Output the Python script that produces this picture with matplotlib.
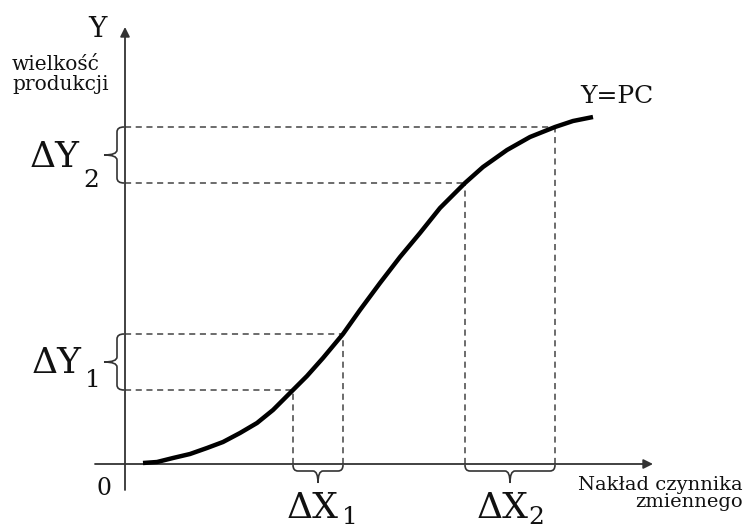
import numpy as np
import matplotlib
matplotlib.use('Agg')
import matplotlib.pyplot as plt
from matplotlib.path import Path
from matplotlib.patches import PathPatch

# production curve Y = PC (origin at the axes' crossing)
curve_x = [18, 32, 48, 65, 82, 98, 115, 132, 148, 168, 182, 198, 218,
           235, 255, 275, 295, 315, 340, 358, 382, 405, 430, 448, 468]
curve_y = [1, 2, 6, 10, 16, 22, 31, 41, 54, 74, 88, 106, 130,
           154, 181, 207, 231, 256, 281, 297, 314, 327, 337, 343, 347]

# the four marked points on the curve
mark_x = [168, 218, 340, 430]
mark_y = [74, 130, 281, 337]

plt.rcParams['font.family'] = 'DejaVu Serif'

fig = plt.figure(figsize=(7.46, 5.32), dpi=100)
ax = fig.add_axes([0, 0, 1, 1])
ax.set_xlim(-125, 621)
ax.set_ylim(-68, 464)
ax.axis('off')

axis_col = '#333333'
dash_col = '#444444'

# axes with arrows
ax.annotate('', xy=(0, 437), xytext=(0, -26),
            arrowprops=dict(arrowstyle='-|>', lw=1.3, color=axis_col,
                            mutation_scale=14, shrinkA=0, shrinkB=0))
ax.annotate('', xy=(528, 0), xytext=(-30, 0),
            arrowprops=dict(arrowstyle='-|>', lw=1.3, color=axis_col,
                            mutation_scale=14, shrinkA=0, shrinkB=0))

# dashed guides
for mx, my in zip(mark_x, mark_y):
    ax.plot([0, mx], [my, my], ls=(0, (4, 3)), lw=1.1, color=dash_col)
    ax.plot([mx, mx], [0, my], ls=(0, (4, 3)), lw=1.1, color=dash_col)

ax.plot(curve_x, curve_y, color='black', lw=3.2, solid_capstyle='butt',
        solid_joinstyle='round', zorder=5)


def brace(a, b, base, spine, tip, vertical):
    # curly brace from a to b along an axis; base/spine/tip are offsets across it
    m = (a + b) / 2
    w = 5
    pts = [(a, base), (a, spine), (a + w, spine),
           (m - w, spine),
           (m, spine), (m, tip),
           (m, spine), (m + w, spine),
           (b - w, spine),
           (b, spine), (b, base)]
    codes = [Path.MOVETO, Path.CURVE3, Path.CURVE3,
             Path.LINETO,
             Path.CURVE3, Path.CURVE3,
             Path.CURVE3, Path.CURVE3,
             Path.LINETO,
             Path.CURVE3, Path.CURVE3]
    if vertical:
        pts = [(p[1], p[0]) for p in pts]
    ax.add_patch(PathPatch(Path(pts, codes), fill=False, lw=1.2, color=axis_col))


brace(mark_y[0], mark_y[1], -1, -8, -21, True)
brace(mark_y[2], mark_y[3], -1, -8, -21, True)
brace(mark_x[0], mark_x[1], -1, -7, -19, False)
brace(mark_x[2], mark_x[3], -1, -7, -19, False)

txt = '#111111'
ax.text(-28, 427, 'Y', fontsize=20, ha='center', va='baseline', color=txt)
ax.text(-113, 394, 'wielkość', fontsize=14.5, ha='left', va='baseline', color=txt)
ax.text(-113, 374, 'produkcji', fontsize=14.5, ha='left', va='baseline', color=txt)

ax.text(-95, 297, 'ΔY', fontsize=26, ha='left', va='baseline', color=txt)
ax.text(-42, 277, '2', fontsize=18, ha='left', va='baseline', color=txt)
ax.text(-93, 91, 'ΔY', fontsize=26, ha='left', va='baseline', color=txt)
ax.text(-40, 77, '1', fontsize=18, ha='left', va='baseline', color=txt)

ax.text(162, -54, 'ΔX', fontsize=26, ha='left', va='baseline', color=txt)
ax.text(217, -60, '1', fontsize=18, ha='left', va='baseline', color=txt)
ax.text(352, -54, 'ΔX', fontsize=26, ha='left', va='baseline', color=txt)
ax.text(403, -60, '2', fontsize=18, ha='left', va='baseline', color=txt)

ax.text(455, 361, 'Y=PC', fontsize=18, ha='left', va='baseline', color=txt)
ax.text(-21, -31, '0', fontsize=17, ha='center', va='baseline', color=txt)
ax.text(618, -26, 'Nakład czynnika', fontsize=14, ha='right', va='baseline', color=txt)
ax.text(618, -43, 'zmiennego', fontsize=14, ha='right', va='baseline', color=txt)

fig.savefig('out.png', dpi=100)
